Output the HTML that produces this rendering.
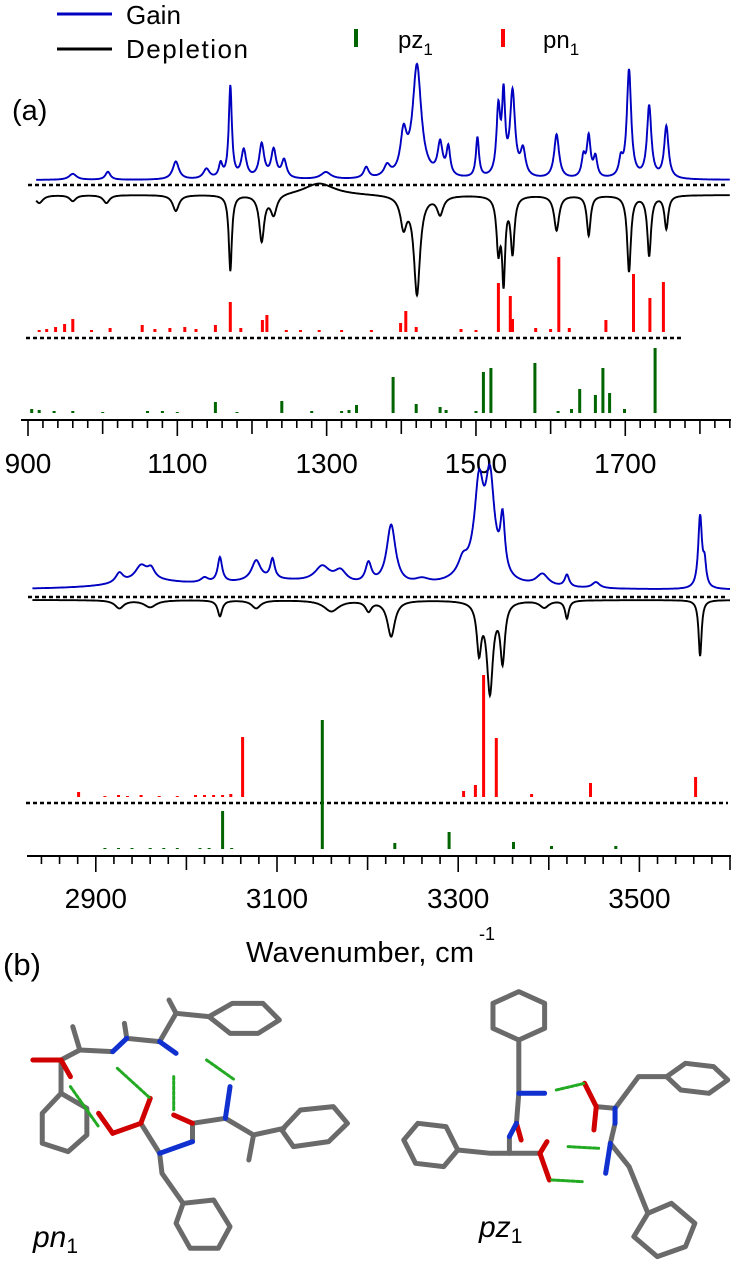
<!DOCTYPE html>
<html><head><meta charset="utf-8"><style>
html,body{margin:0;padding:0;background:#fff;}
svg{display:block;font-family:"Liberation Sans",sans-serif;}
</style></head><body>
<svg id="fig" width="736" height="1283" viewBox="0 0 736 1283" xmlns="http://www.w3.org/2000/svg">
<g>
  <line x1="57" y1="14" x2="112" y2="14" stroke="#0000c0" stroke-width="3"/>
  <text x="126" y="24" font-size="26">Gain</text>
  <line x1="57" y1="49" x2="112" y2="49" stroke="#000" stroke-width="3"/>
  <text x="126" y="58" font-size="26" textLength="122">Depletion</text>
  <rect x="354" y="29" width="4" height="18" fill="#006400"/>
  <text x="398" y="48" font-size="24">pz<tspan font-size="17" dy="7">1</tspan></text>
  <rect x="501" y="29" width="4" height="18" fill="#ff0000"/>
  <text x="543" y="48" font-size="24">pn<tspan font-size="17" dy="7">1</tspan></text>
</g>
<text x="12" y="120" font-size="29">(a)</text>
<g id="top"></g>
<g id="bot"></g>
<text x="246" y="962" font-size="29" textLength="228">Wavenumber, cm</text>
<text x="479" y="940" font-size="18">-1</text>
<text x="3" y="975" font-size="31">(b)</text>
<g id="mol" transform="translate(0,860) scale(0.4695,0.3333)"></g>
<text x="33" y="1247" font-size="30" font-style="italic">pn<tspan font-size="21" dy="6" font-style="normal">1</tspan></text>
<text x="479" y="1237" font-size="30" font-style="italic">pz<tspan font-size="21" dy="6" font-style="normal">1</tspan></text>
</svg>
<script>
// ---- Top panel data (fingerprint region) ----
const topGainPos = [960,1007,1098,1139,1158,1171,1189,1213,1229,1243,1299,1353,1381,1403,1421,1452,1463,1502,1530,1537,1549,1563,1608,1644,1651,1660,1694,1705,1732,1755];
const topGainAmp = [6,8,18,10,14,92,28,34,28,18,7,11,11,40,112,32,28,40,66,76,84,26,44,20,40,20,16,108,72,52];
const topGainWid = [6,4,5,5,3,2.5,4,4,4,4,8,4,5,5,7,4,3,2.5,3,2.5,4,4,4,3,3,3,3,3.5,3.5,3.5];
const topDepPos = [915,960,1005,1098,1171,1213,1229,1290,1403,1421,1452,1530,1537,1549,1608,1651,1705,1732,1755];
const topDepAmp = [8,6,8,16,76,46,20,-12,30,98,18,52,82,56,35,40,76,60,33];
const topDepWid = [6,5,5,5,2.5,4,5,25,5,5,5,3,2.5,3,4,3,3,3,3];
const topPnPos = [915,925,937,949,960,985,1010,1053,1070,1090,1110,1125,1151,1171,1185,1214,1220,1246,1265,1290,1320,1360,1399,1406,1420,1480,1500,1530,1546,1549,1580,1600,1611,1625,1674,1711,1733,1751];
const topPnVal = [2,3,5,8,13,2,4,7,3,4,5,3,7,30,4,12,17,2,2,2,2,2,9,21,5,3,2,49,36,13,4,3,75,4,12,58,34,50];
const topPzPos = [905,915,935,960,1000,1060,1080,1100,1151,1180,1240,1280,1320,1330,1340,1389,1420,1452,1460,1500,1510,1520,1579,1610,1628,1639,1660,1670,1679,1699,1740];
const topPzVal = [4,3,2,2,1,2,2,1,11,1,12,2,2,3,8,36,9,6,3,2,41,45,50,2,4,24,18,45,20,4,65];
const topTicks = [900,1100,1300,1500,1700];
// ---- Bottom panel data (stretch region) ----
const botGainPos = [2926,2950,2961,3020,3037,3077,3095,3150,3170,3201,3226,3260,3305,3323,3335,3349,3393,3420,3452,3567,3572];
const botGainAmp = [10,15,10,5,25,20,20,16,12,20,60,5,14,86,94,54,12,12,6,72,22];
const botGainWid = [5,8,5,5,3,6,3,10,8,4,6,10,6,6,6,3,8,3,5,2.5,2];
const botBroadPos = [2960,3100,3320];
const botBroadAmp = [7,8,12];
const botBroadWid = [50,70,30];
const botDepPos = [2926,2960,3037,3077,3160,3201,3226,3323,3335,3349,3395,3420,3567];
const botDepAmp = [8,7,16,8,11,10,36,48,90,58,7,18,56];
const botDepWid = [6,8,3,6,10,4,5,3,4,3,6,2.5,2];
const botPnPos = [2881,2910,2925,2935,2950,2970,2990,3010,3020,3030,3040,3049,3062,3306,3319,3328,3342,3381,3446,3562];
const botPnVal = [5,1,2,1,2,1,1,2,2,2,2,3,60,6,12,122,59,3,14,20];
const botPzPos = [2910,2925,2940,2960,2975,2990,3015,3025,3040,3050,3150,3230,3290,3361,3403,3474];
const botPzVal = [1,1,1,1,1,1,1,1,38,1,129,6,17,7,3,3];
const botTicks = [2900,3100,3300,3500];

const NS = 'http://www.w3.org/2000/svg';
function mk(tag, attrs, parent){const e=document.createElementNS(NS,tag);for(const k in attrs)e.setAttribute(k,attrs[k]);parent.appendChild(e);return e;}
function lor(x,p,a,w){let s=0;for(let i=0;i<p.length;i++){const d=(x-p[i])/w[i];s+=a[i]/(1+d*d);}return s;}

function panel(g, cfg){
  const xs = v => cfg.x0 + (v - cfg.w0) * cfg.k;
  let d='';
  for(let w=cfg.wmin; w<=cfg.wmax; w+=0.5){
    let v = lor(w,cfg.gp,cfg.ga,cfg.gw) + (cfg.bp?lor(w,cfg.bp,cfg.ba,cfg.bw):0);
    d += (d?'L':'M') + xs(w).toFixed(1) + ',' + (cfg.gBase - v).toFixed(1);
  }
  const gp = mk('path',{d:d,fill:'none',stroke:'#0000c0','stroke-width':1.9},g);
  
  
  d='';
  for(let w=cfg.wmin; w<=cfg.wmax; w+=0.5){
    const v = lor(w,cfg.dp,cfg.da,cfg.dw);
    d += (d?'L':'M') + xs(w).toFixed(1) + ',' + (cfg.dBase + v).toFixed(1);
  }
  const dp = mk('path',{d:d,fill:'none',stroke:'#000','stroke-width':1.9},g);
  
  
  const l1 = mk('line',{x1:cfg.dash1[0],x2:cfg.dash1[1],y1:cfg.dashY1,y2:cfg.dashY1,stroke:'#000','stroke-width':2.5,'stroke-dasharray':'4,3'},g);
  
  
  const l2 = mk('line',{x1:cfg.dash2[0],x2:cfg.dash2[1],y1:cfg.dashY2,y2:cfg.dashY2,stroke:'#000','stroke-width':2.5,'stroke-dasharray':'4,3'},g);
  
  
  for(let i=0;i<cfg.pnP.length;i++){
    const r = mk('rect',{x:(xs(cfg.pnP[i])-1.5).toFixed(1),y:cfg.pnBase-cfg.pnV[i],width:3,height:cfg.pnV[i],fill:'#ff0000'},g);
    
    
  }
  for(let i=0;i<cfg.pzP.length;i++){
    const r = mk('rect',{x:(xs(cfg.pzP[i])-1.5).toFixed(1),y:cfg.pzBase-cfg.pzV[i],width:3,height:cfg.pzV[i],fill:'#006400'},g);
    
    
  }
  const ax = mk('line',{x1:cfg.ax[0],x2:cfg.ax[1],y1:cfg.axY,y2:cfg.axY,stroke:'#000','stroke-width':2},g);
  
  
  for(let w=cfg.tStart; w<=cfg.wmax; w+=20){
    const big = (w%100===0);
    const lab = cfg.ticks.indexOf(w)>=0;
    const t = mk('line',{x1:xs(w),x2:xs(w),y1:cfg.axY,y2:cfg.axY+(lab?16:(big?14:8)),stroke:'#000','stroke-width':1.6},g);
    
    
  }
  cfg.ticks.forEach(v=>{
    const t = mk('text',{x:xs(v),y:cfg.labY,'font-size':28,'text-anchor':'middle'},g);
    t.textContent = v;
    
    
  });
}
panel(document.getElementById('top'),{x0:28,w0:900,k:0.7466,wmin:911,wmax:1840,
  gp:topGainPos,ga:topGainAmp,gw:topGainWid,gBase:180,dp:topDepPos,da:topDepAmp,dw:topDepWid,dBase:195,
  dash1:[28,728],dashY1:185,dash2:[26,683],dashY2:338,pnP:topPnPos,pnV:topPnVal,pnBase:332,pzP:topPzPos,pzV:topPzVal,pzBase:413,
  ax:[21,731],axY:420,tStart:900,ticks:topTicks,labY:473});
panel(document.getElementById('bot'),{x0:95.8,w0:2900,k:0.906,wmin:2830,wmax:3600,
  gp:botGainPos,ga:botGainAmp,gw:botGainWid,bp:botBroadPos,ba:botBroadAmp,bw:botBroadWid,gBase:590,dp:botDepPos,da:botDepAmp,dw:botDepWid,dBase:600,
  dash1:[28,728],dashY1:597,dash2:[26,728],dashY2:803,pnP:botPnPos,pnV:botPnVal,pnBase:797,pzP:botPzPos,pzV:botPzVal,pzBase:849,
  ax:[27,731],axY:856,tStart:2840,ticks:botTicks,labY:908});

// ---- molecules (schematic sticks) ----
const mol = document.getElementById('mol');
const grey = [
 [[445,470],[495,430],[560,430],[595,480],[550,520],[490,520],[445,470]],
 [[375,460],[445,470]],[[375,460],[360,420]],[[375,460],[340,545],[270,535]],[[270,535],[265,490]],[[240,575],[170,570],[155,500]],[[170,570],[130,600],[130,700]],
 [[130,700],[185,745],[185,825],[145,875],[90,850],[90,760],[130,700]],
 [[300,790],[340,880],[345,940],[390,1030]],[[390,1030],[455,1020],[490,1100],[465,1165],[405,1165],[375,1090],[390,1030]],
 [[410,845],[410,790],[480,775],[540,825],[605,805]],[[540,825],[530,900]],[[600,810],[640,750],[710,740],[740,790],[700,845],[625,860],[600,810]],
 [[1105,540],[1160,505],[1160,430],[1105,395],[1050,430],[1050,505],[1105,540]],[[1105,540],[1105,700],[1100,790]],[[1085,830],[1085,880],[1045,880],[975,870]],
 [[975,870],[950,800],[890,790],[860,840],[885,910],[945,920],[975,870]],[[1085,880],[1150,880]],[[1270,740],[1310,745]],[[1310,745],[1360,650],[1420,650]],
 [[1420,650],[1460,610],[1520,620],[1550,660],[1510,700],[1450,690],[1420,650]],[[1310,790],[1300,850],[1340,920],[1360,990],[1380,1060]],
 [[1380,1060],[1430,1030],[1480,1090],[1460,1160],[1400,1190],[1350,1130],[1380,1060]]
];
const red = [[[130,600],[150,650]],[[70,600],[130,600]],[[320,715],[300,790],[240,820]],[[240,820],[210,760]],[[410,790],[370,765]],[[1100,790],[1110,840]],[[1150,880],[1170,960]],[[1150,880],[1165,845]],[[1245,670],[1270,740],[1265,810]]];
const blue = [[[340,545],[375,580]],[[270,535],[240,575]],[[340,880],[410,845]],[[480,775],[490,680]],[[1105,700],[1160,700]],[[1100,790],[1085,830]],[[1310,745],[1310,790]],[[1300,850],[1290,940]]];
const green = [[[250,625],[320,715]],[[370,650],[370,750]],[[440,600],[500,660]],[[150,680],[210,800]],[[1175,960],[1240,965]],[[1210,860],[1275,865]],[[1185,690],[1245,670]]];
function draw(list,color,w,dash,name){
  list.forEach(pts=>{
    const p = mk('polyline',{points:pts.map(q=>q.join(',')).join(' '),fill:'none',stroke:color,'stroke-width':w,'stroke-linejoin':'round','stroke-linecap':'round','vector-effect':'non-scaling-stroke'},mol);
    if(dash)p.setAttribute('stroke-dasharray',dash);
    
    
  });
}
draw(grey,'#6a6a6a',5,null,'bond');
draw(red,'#d00000',5,null,'oxygen-bond');
draw(blue,'#1030d0',5,null,'nitrogen-bond');
draw(green,'#22aa22',3,'3,2','hydrogen-bond');
</script>
</body></html>
